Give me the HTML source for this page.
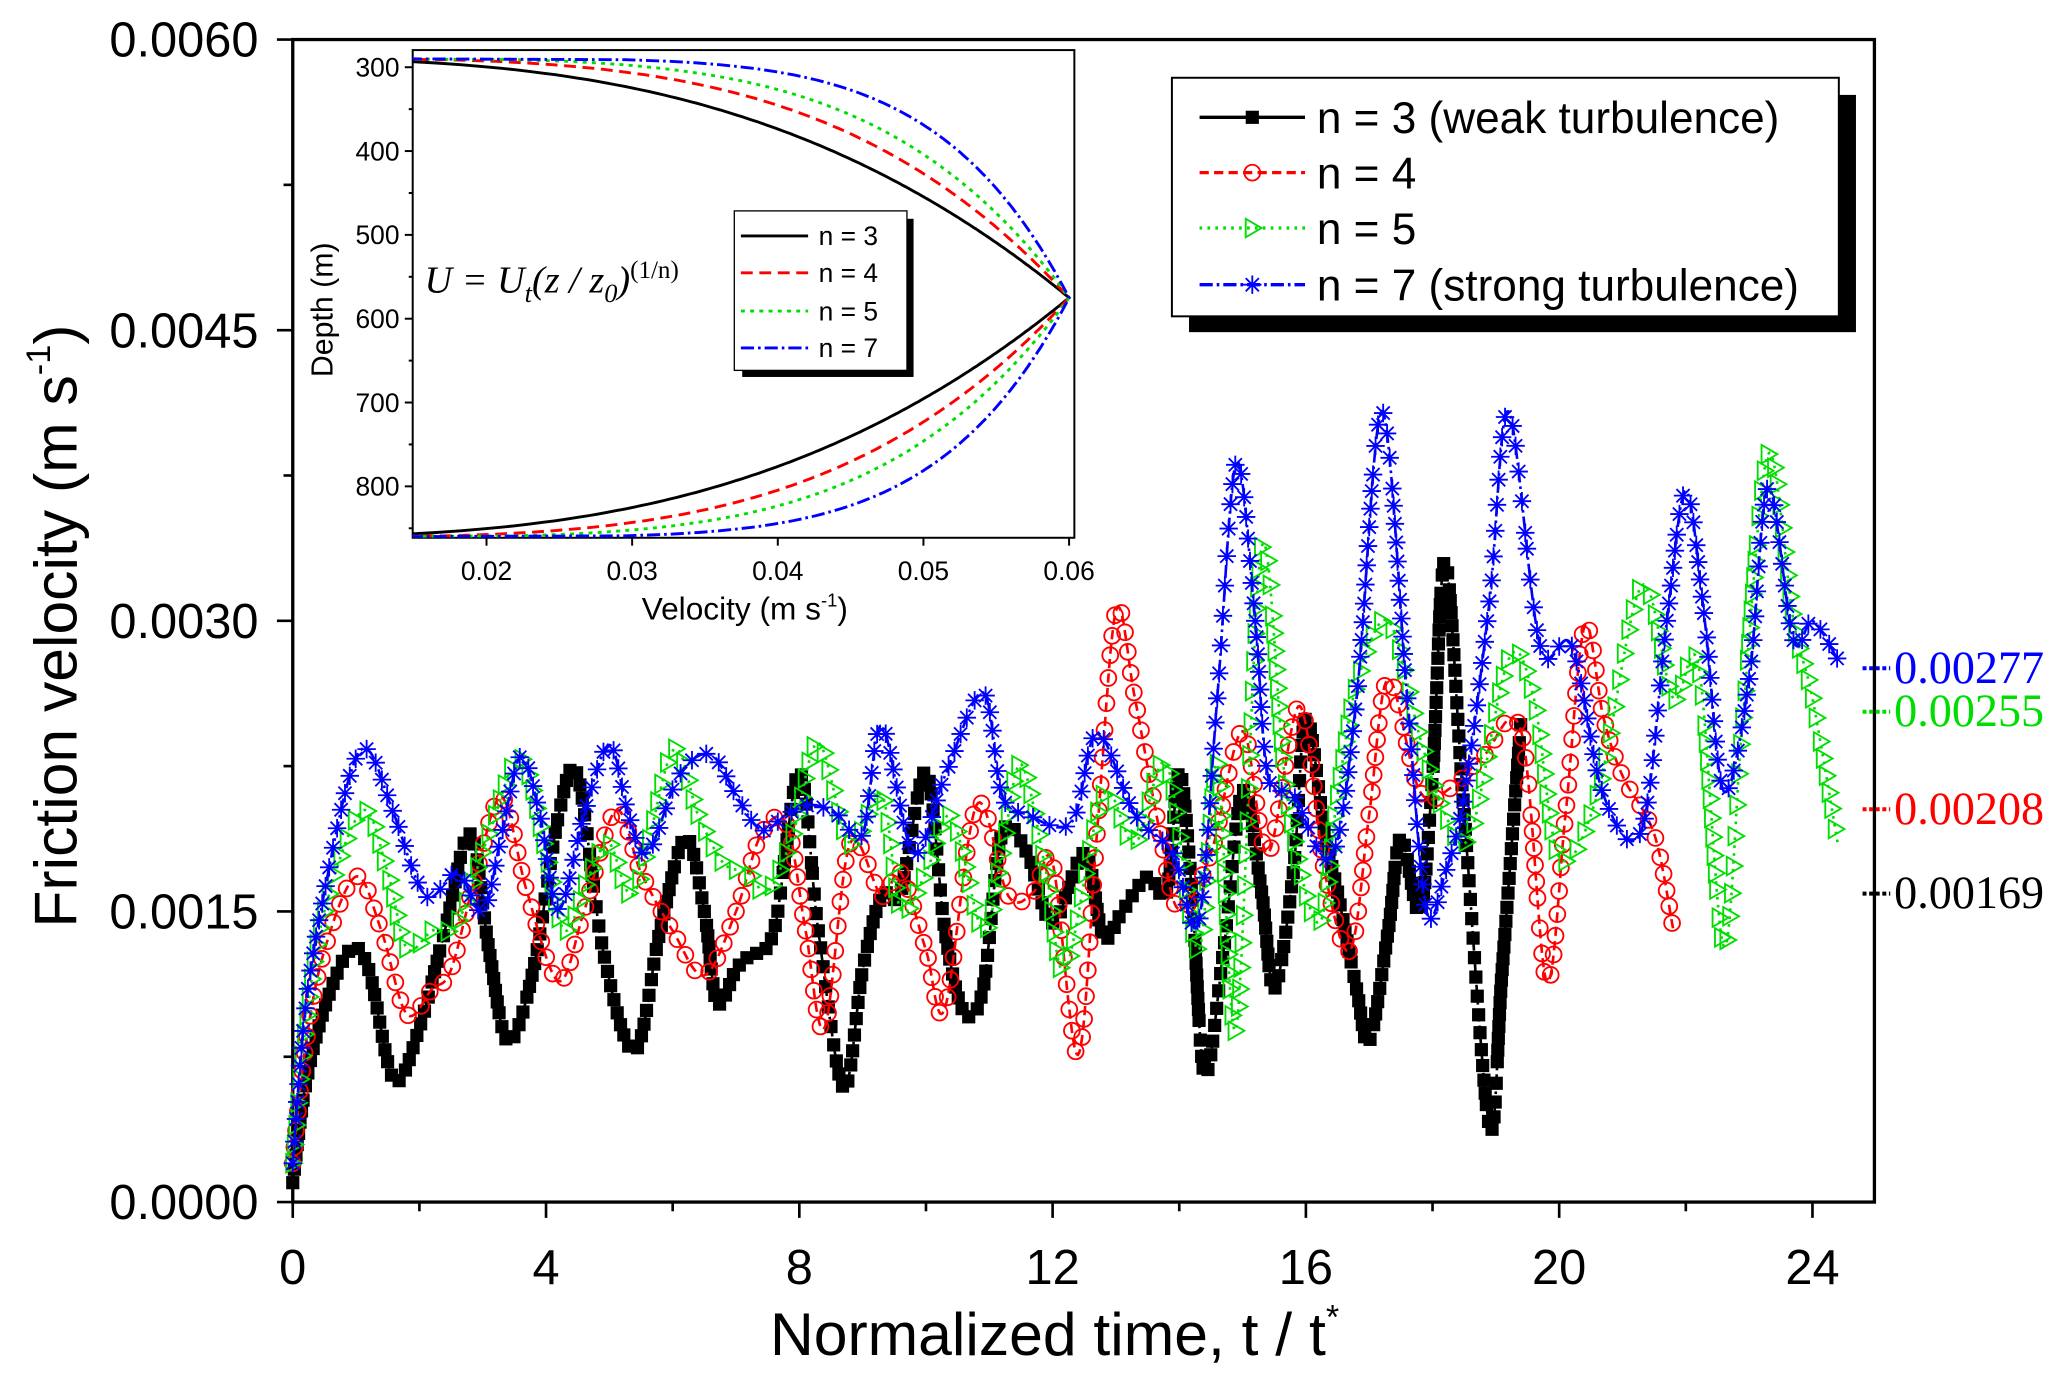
<!DOCTYPE html>
<html><head><meta charset="utf-8"><style>
html,body{margin:0;padding:0;background:#fff}
svg{display:block}
text{font-family:"Liberation Sans",sans-serif}
</style></head><body>
<svg id="chart" width="2067" height="1380" viewBox="0 0 1568 1047" xmlns="http://www.w3.org/2000/svg">
<g id="plot"></g>
</svg>
<script>
// ---- main chart data ----
const xTicks=[0,4,8,12,16,20,24];
const yTicks=[0.0000,0.0015,0.0030,0.0045,0.0060];
const yTickLabels=["0.0000","0.0015","0.0030","0.0045","0.0060"];
const t3=[0,0.2,0.5,0.9,1.2,1.6,2.0,2.4,2.8,3.1,3.4,3.8,4.2,4.5,4.9,5.4,5.8,6.2,6.5,6.7,7.0,7.2,7.6,8.0,8.3,8.7,9.0,9.3,9.6,10.0,10.3,10.6,10.9,11.2,11.6,12.0,12.5,12.8,13.1,13.5,13.8,14.0,14.2,14.4,14.7,15.0,15.3,15.5,15.8,16.0,16.3,16.5,16.8,17.0,17.3,17.5,17.8,18.0,18.2,18.5,18.9,19.1,19.4];
const v3=[0.0001,0.0006,0.0010,0.0013,0.0012,0.00063,0.0009,0.0014,0.0019,0.0013,0.00083,0.0012,0.0020,0.0022,0.0013,0.00078,0.0014,0.00188,0.0015,0.00103,0.0012,0.00127,0.0014,0.00222,0.0014,0.00059,0.0012,0.00158,0.0016,0.00222,0.0014,0.00098,0.0011,0.0019,0.0018,0.00144,0.0018,0.00137,0.0015,0.00168,0.0016,0.00222,0.0016,0.00066,0.0013,0.00212,0.0016,0.0011,0.0017,0.0025,0.0019,0.0016,0.0011,0.00083,0.0014,0.00188,0.0015,0.0022,0.00331,0.0020,0.00039,0.0012,0.0025];
const t4=[0,0.2,0.5,1.0,1.4,1.8,2.2,2.5,2.9,3.3,3.7,4.2,4.6,5.1,5.5,6.0,6.5,7.0,7.4,7.8,8.1,8.4,8.8,9.3,9.6,10.0,10.3,10.8,11.3,11.7,12.0,12.4,12.7,13.0,13.3,13.7,14.0,14.5,15.0,15.4,15.9,16.3,16.7,17.0,17.3,17.8,18.3,18.8,19.4,19.8,20.1,20.4,20.7,21.0,21.5,21.8];
const v4=[0.0002,0.0008,0.0013,0.00168,0.0014,0.00097,0.0011,0.0012,0.0017,0.00209,0.0016,0.00114,0.0015,0.00202,0.0017,0.0014,0.00117,0.0015,0.0019,0.00195,0.0014,0.0009,0.00185,0.00158,0.0017,0.0013,0.0010,0.00205,0.00158,0.0016,0.00175,0.00076,0.0019,0.00305,0.0026,0.0019,0.00151,0.0018,0.00243,0.0018,0.00256,0.0017,0.0013,0.0020,0.0027,0.00212,0.00214,0.0023,0.00243,0.00114,0.0020,0.00297,0.0025,0.0022,0.0019,0.00141];
const t5=[0,0.2,0.5,1.1,1.5,1.8,2.2,2.6,3.1,3.6,4.0,4.3,4.7,5.0,5.4,6.0,6.4,6.8,7.2,7.5,7.9,8.3,8.8,9.3,9.6,10.0,10.4,10.9,11.2,11.5,11.9,12.2,12.8,13.3,13.8,14.3,14.6,14.9,15.3,15.7,16.2,16.5,16.8,17.3,17.8,18.2,18.6,19.2,19.6,20.0,20.6,21.3,21.8,22.2,22.6,22.9,23.3,23.7,24.0,24.4];
const v5=[0.0002,0.0009,0.0015,0.00202,0.0017,0.00131,0.0014,0.00144,0.0019,0.00229,0.0018,0.0014,0.0017,0.00185,0.0016,0.00233,0.0020,0.00175,0.0017,0.0016,0.0019,0.00237,0.00185,0.0021,0.00151,0.0017,0.00199,0.0014,0.0018,0.00226,0.0017,0.0012,0.0021,0.00185,0.00226,0.0013,0.00226,0.0009,0.00338,0.0021,0.00144,0.0021,0.00267,0.0030,0.0024,0.0020,0.0019,0.0028,0.0026,0.00178,0.0021,0.00318,0.0026,0.00277,0.00132,0.0025,0.00386,0.0030,0.0026,0.00185];
const t7=[0,0.2,0.5,0.9,1.2,1.6,2.1,2.6,3.0,3.3,3.6,3.9,4.2,4.6,5.0,5.3,5.6,6.1,6.6,7.0,7.4,7.8,8.2,8.6,9.0,9.3,9.8,10.3,10.9,11.2,11.6,12.3,12.7,13.3,13.9,14.3,14.6,14.9,15.2,15.4,15.8,16.4,16.8,17.2,17.6,17.9,18.2,18.5,18.9,19.2,19.7,20.2,20.7,21.3,21.7,22.0,22.3,22.6,23.0,23.3,23.7,24.0,24.4];
const v7=[0.0002,0.0010,0.0016,0.0022,0.00233,0.0020,0.00158,0.0017,0.0015,0.0019,0.00230,0.0020,0.00151,0.0020,0.00236,0.0020,0.0018,0.0022,0.00231,0.0021,0.00192,0.0020,0.00205,0.0020,0.0019,0.00246,0.0018,0.0022,0.00263,0.0021,0.0020,0.00196,0.00242,0.0020,0.0018,0.00144,0.0026,0.00382,0.0030,0.0022,0.0021,0.00178,0.0026,0.00408,0.0026,0.00151,0.0017,0.0021,0.0031,0.00408,0.00287,0.00287,0.0021,0.00192,0.0030,0.00367,0.0030,0.00212,0.0027,0.00369,0.0029,0.0030,0.0028];
const endLabels=["0.00277","0.00255","0.00208","0.00169"];
const endValues=[0.00277,0.00255,0.00208,0.00169];
// ---- inset data ----
const insetXTicks=[0.02,0.03,0.04,0.05,0.06];
const insetYTicks=[300,400,500,600,700,800];
const insetN=[3,4,5,7];

const NS="http://www.w3.org/2000/svg";
const root=document.getElementById('plot');
function el(tag,attrs,parent,txt){const e=document.createElementNS(NS,tag);for(const k in attrs)e.setAttribute(k,attrs[k]);if(txt!==undefined)e.textContent=txt;(parent||root).appendChild(e);return e;}
const L=222,R=1422,T=30,B=912;
const X=t=>L+(t-0)*(1375-222)/24;
const Y=v=>B-(v/0.006)*(B-T);

let fr=el('rect',{x:L,y:T,width:R-L,height:B-T,fill:'none',stroke:'#000','stroke-width':2.5});


for(let i=0;i<=12;i++){const t=i*2;const major=i%2==0;
 let tk=el('line',{x1:X(t),x2:X(t),y1:B,y2:B+(major?12:7),stroke:'#000','stroke-width':2});
 
 }
xTicks.forEach(t=>{let tx=el('text',{x:X(t),y:974,'font-size':37,'text-anchor':'middle'},root,String(t));
 
 });
for(let i=0;i<=8;i++){const v=i*0.00075;const major=i%2==0;
 let tk=el('line',{x1:L,x2:L-(major?12:7),y1:Y(v),y2:Y(v),stroke:'#000','stroke-width':2});
 
 }
yTicks.forEach((v,i)=>{let tx=el('text',{x:196,y:Y(v)+13,'font-size':37,'text-anchor':'end'},root,yTickLabels[i]);
 
 });
let xt=el('text',{x:800,y:1028,'font-size':46,'text-anchor':'middle'},root);


xt.innerHTML='Normalized time, t / t<tspan dy="-20" font-size="26">*</tspan>';
let yt=el('text',{x:0,y:0,'font-size':46,'text-anchor':'middle',transform:'translate(58,475) rotate(-90)'},root);


yt.innerHTML='Friction velocity (m s<tspan dy="-20" font-size="26">-1</tspan><tspan dy="20">)</tspan>';

function marker(type,x,y,col,g){
 if(type==='sq') return el('rect',{x:x-5,y:y-5,width:10,height:10,fill:col},g);
 if(type==='ci') return el('circle',{cx:x,cy:y,r:6,fill:'none',stroke:col,'stroke-width':1.4},g);
 if(type==='tr') return el('path',{d:`M${x-5},${y-7}L${x+7},${y}L${x-5},${y+7}Z`,fill:'none',stroke:col,'stroke-width':1.4},g);
 return el('path',{d:`M${x-7},${y}H${x+7}M${x},${y-7}V${y+7}M${x-5},${y-5}L${x+5},${y+5}M${x-5},${y+5}L${x+5},${y-5}`,stroke:col,'stroke-width':1.4},g);
}
function smooth(pts){
 const out=[];
 for(let i=0;i<pts.length-1;i++){
  const p0=pts[Math.max(0,i-1)],p1=pts[i],p2=pts[i+1],p3=pts[Math.min(pts.length-1,i+2)];
  for(let k=0;k<20;k++){const s=k/20,s2=s*s,s3=s2*s;
   out.push([0.5*(2*p1[0]+(-p0[0]+p2[0])*s+(2*p0[0]-5*p1[0]+4*p2[0]-p3[0])*s2+(-p0[0]+3*p1[0]-3*p2[0]+p3[0])*s3),
             0.5*(2*p1[1]+(-p0[1]+p2[1])*s+(2*p0[1]-5*p1[1]+4*p2[1]-p3[1])*s2+(-p0[1]+3*p1[1]-3*p2[1]+p3[1])*s3)]);}
 }
 out.push(pts[pts.length-1]);return out;
}
const series=[
 {t:t3,v:v3,col:'#000',dash:'10,3,2,3',m:'sq',name:'series-n3'},
 {t:t4,v:v4,col:'#ff0000',dash:'7,4',m:'ci',name:'series-n4'},
 {t:t5,v:v5,col:'#00dd00',dash:'2,4',m:'tr',name:'series-n5'},
 {t:t7,v:v7,col:'#0000ff',dash:'10,3,2,3',m:'st',name:'series-n7'}];
series.forEach(s=>{
 const g=el('g',{});
 
 
 const raw=s.t.map((t,i)=>[X(t),Y(s.v[i])]);
 const sp=smooth(raw);
 const d=sp.map((q,i)=>(i?'L':'M')+q[0].toFixed(1)+','+q[1].toFixed(1)).join('');
 el('path',{d,fill:'none',stroke:s.col,'stroke-width':2,'stroke-dasharray':s.dash},g);
 let acc=0;const step=s.m==='sq'?8:12;
 let m0=marker(s.m,sp[0][0],sp[0][1],s.col,g);
 
 
 for(let i=1;i<sp.length;i++){
  acc+=Math.hypot(sp[i][0]-sp[i-1][0],sp[i][1]-sp[i-1][1]);
  if(acc>=step){acc=0;
   const m=marker(s.m,sp[i][0],sp[i][1],s.col,g);
   
   }
 }
});
const endCols=['#0000ff','#00dd00','#ff0000','#000'];
endValues.forEach((v,i)=>{
 const y=[507,540,614,678][i];
 el('line',{x1:1413,x2:1434,y1:y,y2:y,stroke:endCols[i],'stroke-width':3,'stroke-dasharray':'3,2'});
 let tx=el('text',{x:1437,y:y+11,'font-size':35,fill:endCols[i]},root,endLabels[i]);
 tx.style.fontFamily='"Liberation Serif",serif';
 
 
});
const lg=el('g',{});


el('rect',{x:902,y:72,width:506,height:180,fill:'#000'},lg);
el('rect',{x:889,y:59,width:506,height:181,fill:'#fff',stroke:'#000','stroke-width':1.5},lg);
const legTxt=['n = 3 (weak turbulence)','n = 4','n = 5','n = 7 (strong turbulence)'];
series.forEach((s,i)=>{const y=[89,131,173,216][i];
 el('line',{x1:910,x2:990,y1:y,y2:y,stroke:s.col,'stroke-width':2.5,'stroke-dasharray':i==0?'none':s.dash},lg);
 marker(s.m,950,y,s.col,lg);
 let tx=el('text',{x:999,y:y+12,'font-size':33.5},lg,legTxt[i]);
 
 });

// inset
const IL=313,IR=815,IT=38,IB=408;
const IX=u=>369+(u-0.02)*(811-369)/0.04;
const IY=d=>51+(d-300)*(369-51)/500;
const ig=el('g',{});


el('rect',{x:IL,y:IT,width:IR-IL,height:IB-IT,fill:'#fff',stroke:'#000','stroke-width':1.5},ig);
insetXTicks.forEach(u=>{el('line',{x1:IX(u),x2:IX(u),y1:IB,y2:IB+6,stroke:'#000','stroke-width':1.5},ig);
 let tx=el('text',{x:IX(u),y:440,'font-size':20,'text-anchor':'middle'},ig,u.toFixed(2));
 
 });
for(let d=300;d<=850;d+=50){const mj=d%100==0;el('line',{x1:IL,x2:IL-(mj?6:3),y1:IY(d),y2:IY(d),stroke:'#000','stroke-width':1.5},ig);}
insetYTicks.forEach(d=>{let tx=el('text',{x:303,y:IY(d)+7,'font-size':20,'text-anchor':'end'},ig,String(d));
 
 });
let ixt=el('text',{x:565,y:470,'font-size':24,'text-anchor':'middle'},ig);
ixt.innerHTML='Velocity (m s<tspan dy="-10" font-size="14">-1</tspan><tspan dy="10">)</tspan>';


let iyt=el('text',{x:0,y:0,'font-size':23,'text-anchor':'middle',transform:'translate(252,235) rotate(-90)'},ig,'Depth (m)');


const cp=el('clipPath',{id:'ic'},ig);el('rect',{x:IL,y:IT,width:IR-IL,height:IB-IT},cp);
const icols=['#000','#ff0000','#00dd00','#0000ff'];const idash=['none','9,5','3,4','10,3,2,3'];
insetN.forEach((n,k)=>{let pts=[];
 for(let d=289;d<=861;d+=2){const f=Math.max(0,1-Math.abs(d-575)/286);pts.push([IX(0.06*Math.pow(f,1/n)),IY(d)]);}
 const p=el('path',{d:pts.map((q,i)=>(i?'L':'M')+q[0].toFixed(1)+','+q[1].toFixed(1)).join(''),fill:'none',stroke:icols[k],'stroke-width':2.2,'stroke-dasharray':idash[k],'clip-path':'url(#ic)'},ig);
 
 });
let fm=el('text',{x:322,y:222,'font-size':29,'font-style':'italic'},ig);
fm.style.fontFamily='"Liberation Serif",serif';
fm.innerHTML='U = U<tspan dy="7" font-size="20">t</tspan><tspan dy="-7">(z / z</tspan><tspan dy="7" font-size="20">0</tspan><tspan dy="-7">)</tspan><tspan dy="-11" font-size="19" font-style="normal">(1/n)</tspan>';


const il=el('g',{},ig);


el('rect',{x:563,y:166,width:130,height:120,fill:'#000'},il);
el('rect',{x:557,y:160,width:131,height:121,fill:'#fff',stroke:'#000','stroke-width':1},il);
insetN.forEach((n,k)=>{const y=[179,207,236,264][k];
 el('line',{x1:562,x2:613,y1:y,y2:y,stroke:icols[k],'stroke-width':2.2,'stroke-dasharray':idash[k]},il);
 let tx=el('text',{x:621,y:y+7,'font-size':20},il,'n = '+n);
 
 });
</script>
</body></html>
